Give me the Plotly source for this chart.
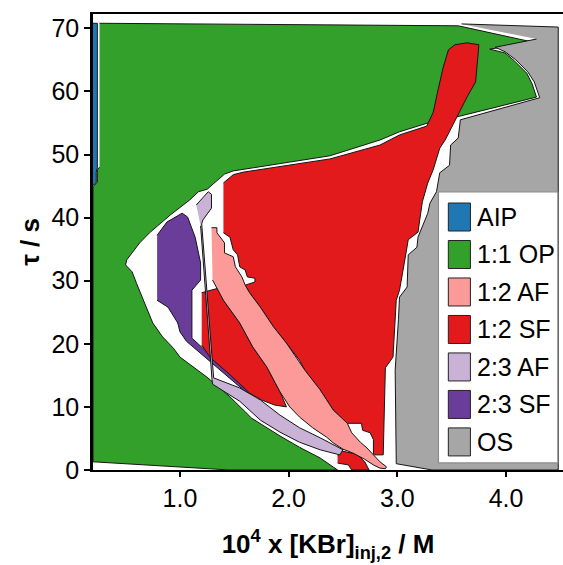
import plotly.graph_objects as go

# Phase regions in the ([KBr]_inj,2 x 1e4 / M, tau / s) plane.
# Each list traces one closed boundary; None separates disjoint pieces.
aip_x = [0.20, 0.24, 0.24, 0.23, 0.23, 0.21, 0.20]
aip_y = [70.8, 70.8, 47.9, 47.2, 45.6, 45.2, 45.2]

op11_x = [0.26, 3.56, 4.25, 3.85, 3.99, 4.08, 4.19, 4.24, 4.28, 3.59, 3.44, 3.28, 3.02,
          2.84, 2.38, 2.01, 1.58, 1.49, 1.41, 1.25, 1.17, 1.09, 0.91, 0.82, 0.72, 0.63,
          0.57, 0.51, 0.50, 0.56, 0.60, 0.65, 0.70, 0.75, 0.84, 0.94, 1.00, 1.25, 1.46,
          1.66, 1.92, 2.10, 2.29, 2.45, 1.46, 0.20, 0.20, 0.22, 0.24, 0.24, 0.26]
op11_y = [70.8, 70.4, 67.8, 66.7, 66.1, 64.8, 62.9, 61.2, 59.1, 56.1, 55.5, 55.0, 53.6,
          52.3, 49.8, 48.8, 47.7, 47.4, 46.9, 44.5, 44.1, 42.8, 40.4, 39.1, 37.6, 36.0,
          34.6, 33.3, 32.5, 31.4, 29.6, 27.4, 25.4, 23.3, 21.1, 19.3, 17.9, 14.7, 11.6,
          8.2, 5.4, 3.6, 1.9, 0.0, 0.0, 1.3, 44.9, 45.3, 45.6, 47.6, 48.0]

os_x = [3.59, 4.48, 4.48, 3.32, 2.99, 2.98, 3.01, 3.02, 3.09, 3.10, 3.18, 3.19, 3.28, 3.30,
        3.36, 3.39, 3.48, 3.49, 3.56, 3.58, 4.31, 4.26, 4.20, 4.09, 3.99, 3.90, 4.28]
os_y = [70.7, 70.2, 0.0, 0.0, 1.0, 15.8, 23.8, 27.4, 29.0, 34.1, 35.3, 36.9, 40.7, 42.3,
        44.1, 47.1, 48.3, 51.5, 52.6, 55.5, 59.0, 61.5, 63.1, 65.0, 66.3, 67.0, 68.3]

sf12_main_x = [1.40, 1.49, 1.58, 2.01, 2.38, 2.84, 3.02, 3.27, 3.33, 3.37, 3.42, 3.47, 3.53,
               3.64, 3.75, 3.74, 3.72, 3.65, 3.59, 3.53, 3.48, 3.44, 3.39, 3.36, 3.33, 3.28,
               3.23, 3.19, 3.10, 3.08, 3.02, 2.99, 2.96, 2.89, 2.87, 2.78, 2.78, 2.75, 2.68,
               2.67, 2.54, 2.41, 2.29, 2.15, 2.10, 1.98, 1.86, 1.74, 1.64, 1.60, 1.69, 1.69,
               1.62, 1.60, 1.55, 1.53, 1.49, 1.46, 1.40]
sf12_main_y = [45.5, 46.8, 47.2, 48.3, 49.3, 51.5, 53.1, 54.5, 56.7, 59.9, 63.7, 66.6, 67.4,
               67.7, 67.4, 65.3, 61.5, 59.4, 57.4, 55.5, 53.6, 52.3, 51.0, 49.1, 47.6, 45.5,
               42.5, 37.7, 36.5, 34.4, 28.5, 26.9, 17.9, 16.2, 2.4, 2.4, 4.8, 5.9, 6.3,
               7.4, 7.4, 9.5, 12.7, 15.8, 17.4, 20.1, 22.7, 25.8, 28.1, 29.3, 29.8, 30.4,
               30.6, 31.7, 32.2, 34.1, 34.9, 36.9, 37.6]
sf12_small_x = [1.20, 1.35, 1.40, 1.55, 1.67, 1.80, 1.92, 1.98, 1.87, 1.75, 1.64, 1.46, 1.28, 1.20]
sf12_small_y = [28.1, 28.8, 26.9, 23.3, 19.5, 16.3, 12.4, 10.0, 10.3, 11.1, 12.2, 15.1, 17.8, 19.8]
sf12_low_x = [2.45, 2.49, 2.63, 2.70, 2.74, 2.58, 2.55, 2.45]
sf12_low_y = [2.2, 3.0, 2.5, 1.3, 0.0, 0.0, 0.8, 1.1]

af12_x = [1.29, 1.34, 1.34, 1.41, 1.41, 1.49, 1.51, 1.57, 1.60, 1.64, 1.74, 1.86, 1.98, 2.15,
          2.29, 2.41, 2.54, 2.58, 2.66, 2.72, 2.78, 2.84, 2.90, 2.89, 2.84, 2.78, 2.70, 2.59,
          2.50, 2.41, 2.35, 2.22, 2.10, 2.01, 1.92, 1.80, 1.67, 1.55, 1.40, 1.30]
af12_y = [38.4, 38.4, 37.6, 36.0, 34.4, 33.8, 32.2, 30.6, 29.3, 28.1, 25.8, 22.7, 20.1, 15.8,
          12.7, 9.5, 7.4, 5.9, 4.4, 3.5, 2.4, 1.3, 0.5, 0.2, 0.3, 0.8, 1.7, 2.7,
          3.3, 4.3, 5.2, 6.7, 8.4, 10.0, 12.4, 16.3, 19.5, 23.3, 26.9, 30.1]

sf23_x = [0.79, 0.88, 1.02, 1.07, 1.14, 1.19, 1.19, 1.11, 1.11, 1.66, 1.63, 1.06, 1.00, 0.98, 0.89, 0.79]
sf23_y = [37.2, 39.3, 40.7, 40.1, 36.9, 32.8, 30.1, 28.5, 20.9, 12.2, 12.0, 20.4, 21.9, 23.3, 25.8, 26.9]

af23_x = [1.15, 1.26, 1.29, 1.29, 1.21, 1.20, 1.31, 1.55, 1.74, 1.92, 2.10, 2.29, 2.50, 2.47,
          2.29, 2.10, 1.92, 1.74, 1.55, 1.30, 1.295, 1.19]
af23_y = [42.0, 44.1, 43.7, 41.5, 39.6, 39.0, 14.6, 13.0, 11.1, 8.7, 6.7, 5.1, 3.2, 2.4,
          3.2, 4.4, 6.0, 7.9, 10.9, 13.6, 14.3, 38.7]

x_ticks = [1.0, 2.0, 3.0, 4.0]
x_tick_labels = ["1.0", "2.0", "3.0", "4.0"]
y_ticks = [0, 10, 20, 30, 40, 50, 60, 70]

phase_names = ["AIP", "1:1 OP", "1:2 AF", "1:2 SF", "2:3 AF", "2:3 SF", "OS"]
phase_colors = ["#1f78b4", "#33a02c", "#fb9a99", "#e31a1c", "#cab2d6", "#6a3d9a", "#a6a6a6"]
color_of = dict(zip(phase_names, phase_colors))

FONT = "Liberation Sans, Arial, Helvetica, sans-serif"
OUTLINE = "#151515"


def join(*parts):
    xs, ys = [], []
    for i, (px, py) in enumerate(parts):
        if i:
            xs.append(None)
            ys.append(None)
        xs += px
        ys += py
    return xs, ys


fig = go.Figure()


def region(xs, ys, name):
    fig.add_trace(go.Scatter(
        x=xs, y=ys, name=name, mode="lines", fill="toself",
        fillcolor=color_of[name], line=dict(color=OUTLINE, width=1),
        hoverinfo="skip", showlegend=False,
    ))


# drawing order: large background phases first, narrow bands on top
region(op11_x, op11_y, "1:1 OP")
region(os_x, os_y, "OS")
region(sf23_x, sf23_y, "2:3 SF")
sx, sy = join((sf12_main_x, sf12_main_y), (sf12_small_x, sf12_small_y), (sf12_low_x, sf12_low_y))
region(sx, sy, "1:2 SF")
region(af12_x, af12_y, "1:2 AF")
region(af23_x, af23_y, "2:3 AF")
region(aip_x, aip_y, "AIP")

# legend panel drawn in paper coordinates
shapes = [dict(type="rect", xref="paper", yref="paper", x0=0.735, x1=0.989, y0=0.0155, y1=0.6096,
               fillcolor="white", line=dict(color="#8c8c8c", width=1.2), layer="above")]
annotations = []
row_top = 0.5548
row_step = 0.0822
for i, (name, col) in enumerate(zip(phase_names, phase_colors)):
    yc = row_top - i * row_step
    shapes.append(dict(type="rect", xref="paper", yref="paper", x0=0.756, x1=0.803,
                       y0=yc - 0.0307, y1=yc + 0.0307, fillcolor=col,
                       line=dict(color="#222222", width=1), layer="above"))
    annotations.append(dict(xref="paper", yref="paper", x=0.813, y=yc, text=name,
                            showarrow=False, xanchor="left", yanchor="middle",
                            font=dict(family=FONT, size=25, color="black")))

fig.update_layout(
    width=563, height=565,
    margin=dict(l=93, r=0, t=14, b=95),
    paper_bgcolor="white", plot_bgcolor="white",
    font=dict(family=FONT, size=25, color="black"),
    shapes=shapes, annotations=annotations,
    showlegend=False,
)
fig.update_xaxes(
    range=[0.2, 4.524], tickvals=x_ticks, ticktext=x_tick_labels,
    showgrid=False, zeroline=False,
    showline=True, linecolor="black", linewidth=2, mirror=True,
    ticks="outside", ticklen=5, tickwidth=1.5, tickcolor="black",
    tickfont=dict(family=FONT, size=25, color="black"),
    title=dict(text="<b>10<sup>4</sup> x [KBr]<sub>inj,2</sub> / M</b>",
               font=dict(family=FONT, size=26, color="black"), standoff=24),
)
fig.update_yaxes(
    range=[0, 72.27], tickvals=y_ticks,
    showgrid=False, zeroline=False,
    showline=True, linecolor="black", linewidth=2.5,
    ticks="outside", ticklen=6, tickwidth=1.5, tickcolor="black",
    tickfont=dict(family=FONT, size=25, color="black"),
    title=dict(text="<b>τ / s</b>", font=dict(family=FONT, size=26, color="black"), standoff=5),
)

fig.write_html("out.html")
